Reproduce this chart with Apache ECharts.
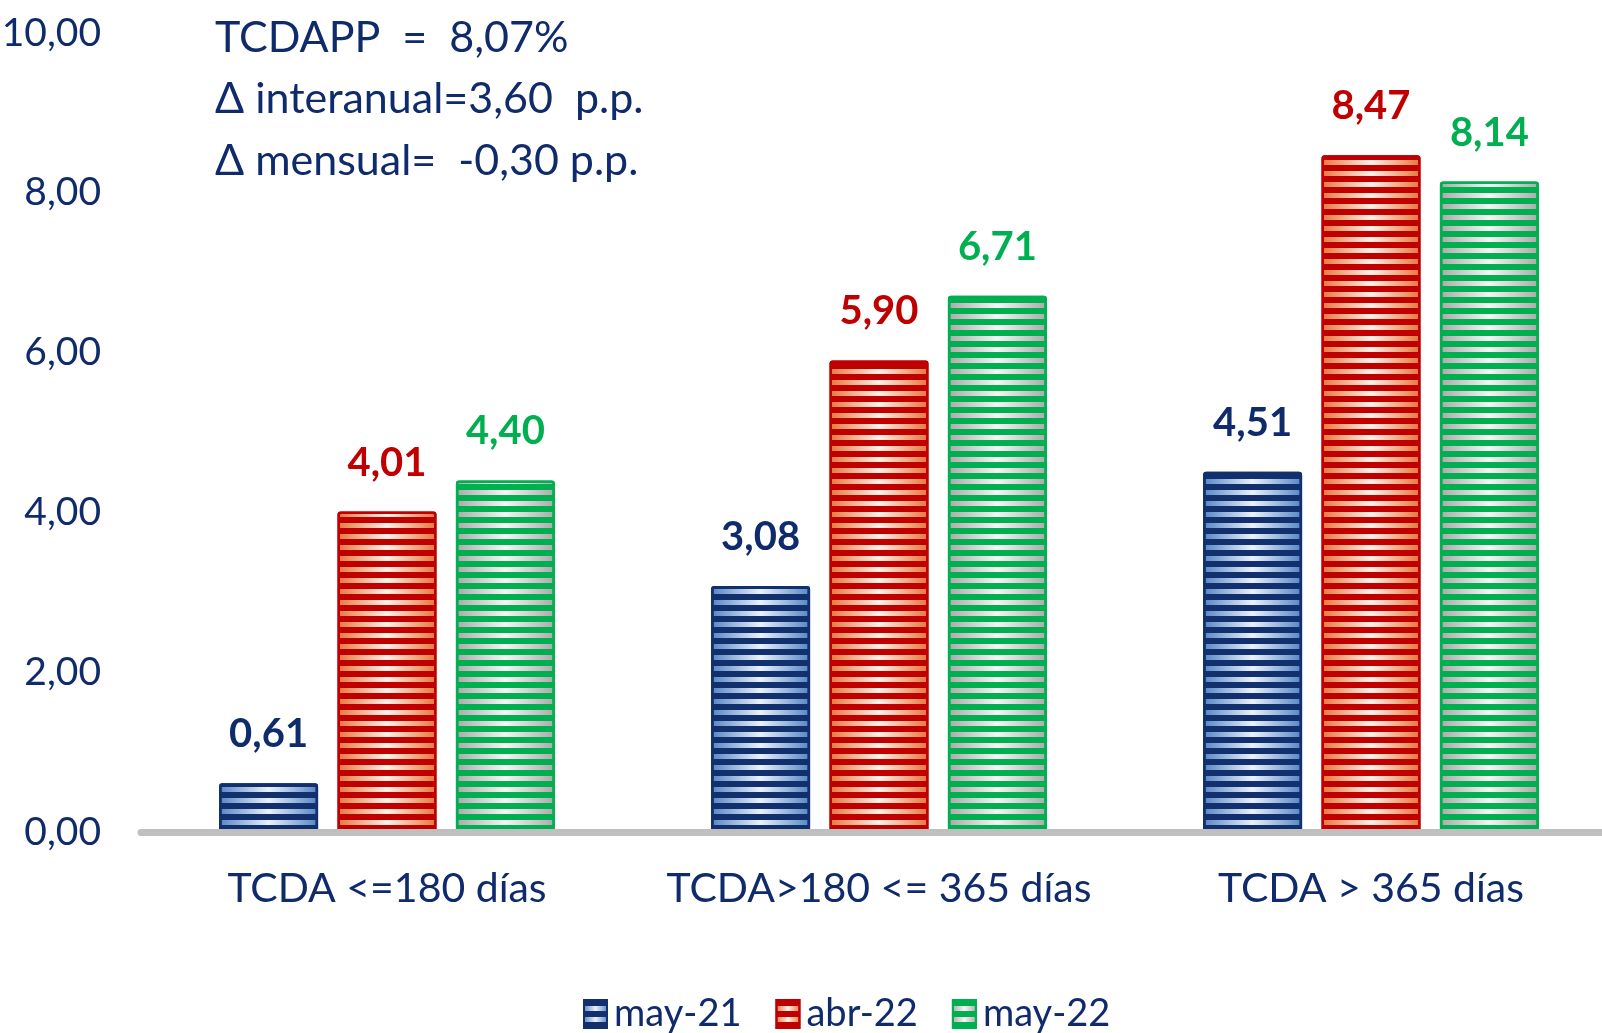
<!DOCTYPE html>
<html>
<head>
<meta charset="utf-8">
<script src="https://cdn.jsdelivr.net/npm/echarts@6/dist/echarts.min.js"></script>
<style>
html,body{margin:0;padding:0;background:#fff;}
#c{width:1602px;height:1033px;}
</style>
</head>
<body>
<div id="c"></div>
<script>
const categories = ['TCDA <=180 días', 'TCDA>180 <= 365 días', 'TCDA > 365 días'];
const seriesNames = ['may-21', 'abr-22', 'may-22'];
const may21 = [0.61, 3.08, 4.51];
const abr22 = [4.01, 5.90, 8.47];
const may22 = [4.40, 6.71, 8.14];
const noteLines = ['TCDAPP  =  8,07%', 'Δ interanual=3,60  p.p.', 'Δ mensual=  -0,30 p.p.'];

const NAVY = '#0f2b6b';
const styles = [
  {dark: '#122f6e', edge: '#5585c4', mid: '#eaf1fa', label: NAVY},
  {dark: '#c00000', edge: '#e6763a', mid: '#fdf1e8', label: '#c00000'},
  {dark: '#00b050', edge: '#a9a9a9', mid: '#f5f5f5', label: '#00b050'}
];
const values = [may21, abr22, may22];
const fmt = v => Number(v).toFixed(2).replace('.', ',');

const chart = echarts.init(document.getElementById('c'), null, {renderer: 'canvas'});

const series = seriesNames.map((name, i) => {
  const s = styles[i];
  return {
    name: name,
    type: 'bar',
    data: values[i],
    barWidth: 99,
    barGap: '19.6%',
    itemStyle: {
      color: {
        type: 'linear', x: 0, y: 0, x2: 1, y2: 0,
        colorStops: [
          {offset: 0, color: s.edge},
          {offset: 0.5, color: s.mid},
          {offset: 1, color: s.edge}
        ]
      },
      borderColor: s.dark,
      borderWidth: 2.5,
      borderRadius: 2,
      decal: {
        symbol: 'rect',
        symbolSize: 1,
        color: s.dark,
        dashArrayX: [1, 0],
        dashArrayY: [6, 5],
        rotation: 0
      }
    },
    label: {
      show: true,
      position: 'top',
      distance: 29,
      formatter: p => fmt(p.value),
      color: s.label,
      fontFamily: 'Lato',
      fontWeight: 'bold',
      fontSize: 40
    }
  };
});

const option = {
  animation: false,
  backgroundColor: '#ffffff',
  grid: {left: 141, right: -15, top: 33, bottom: 201, containLabel: false, outerBoundsMode: 'none'},
  xAxis: {
    type: 'category',
    data: categories,
    z: 10,
    axisLine: {show: true, lineStyle: {color: '#bfbfbf', width: 7}},
    axisTick: {show: false},
    axisLabel: {
      interval: 0,
      hideOverlap: false,
      color: NAVY, fontFamily: 'Lato', fontSize: 41, margin: 36
    }
  },
  yAxis: {
    type: 'value',
    min: 0, max: 10, interval: 2,
    axisLine: {show: false},
    axisTick: {show: false},
    splitLine: {show: false},
    axisLabel: {
      color: NAVY, fontFamily: 'Lato', fontSize: 39, margin: 40,
      formatter: v => fmt(v)
    }
  },
  legend: {
    data: seriesNames,
    icon: 'rect',
    left: 578,
    top: 990,
    itemWidth: 23,
    itemHeight: 28,
    itemGap: 34,
    textStyle: {color: NAVY, fontFamily: 'Lato', fontSize: 38, padding: [0, 0, 0, 2]}
  },
  graphic: noteLines.map((t, i) => ({
    type: 'text',
    x: 215,
    y: 38 + i * 61.5,
    style: {
      text: t,
      font: '43px Lato',
      fill: NAVY,
      verticalAlign: 'middle'
    }
  })),
  series: series
};
chart.setOption(option);
</script>
</body>
</html>
